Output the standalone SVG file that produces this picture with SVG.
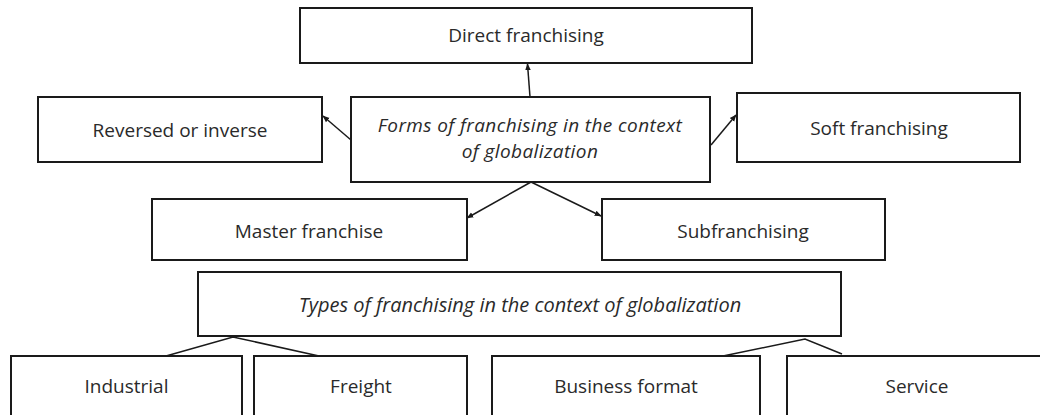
<svg xmlns="http://www.w3.org/2000/svg" width="1040" height="415" viewBox="0 0 1040 415">
<style>
.box{fill:#fff;stroke:#1a1a1a;stroke-width:2}
.t{font-family:"Open Sans","Liberation Sans",sans-serif;font-size:19px;fill:#2a2a2a;text-anchor:middle}
.i{font-style:italic;font-size:20px}
.f{font-style:italic;font-size:19px;letter-spacing:0.4px}
.c{stroke:#1a1a1a;stroke-width:1.5;fill:none}
</style>
<defs>
<marker id="ah" viewBox="0 0 10 10" refX="9" refY="5" markerWidth="7" markerHeight="7" orient="auto" markerUnits="userSpaceOnUse">
<path d="M0,1 L10,5 L0,9 z" fill="#1a1a1a"/>
</marker>
</defs>
<rect width="1040" height="415" fill="#fff"/>
<g id="connectors">
<line class="c" x1="530" y1="97" x2="527.5" y2="64" marker-end="url(#ah)"/>
<line class="c" x1="351" y1="140" x2="323" y2="116" marker-end="url(#ah)"/>
<line class="c" x1="711" y1="145" x2="736" y2="115" marker-end="url(#ah)"/>
<line class="c" x1="531" y1="182" x2="467" y2="218" marker-end="url(#ah)"/>
<line class="c" x1="531" y1="182" x2="601" y2="216" marker-end="url(#ah)"/>
<polyline class="c" points="166,356 233,337 319,356"/>
<polyline class="c" points="723,356 805,339 842,354"/>
</g>
<g id="direct"><rect class="box" x="300" y="8" width="452" height="55"/><text class="t" x="526" y="42">Direct franchising</text></g>
<g id="reversed"><rect class="box" x="38" y="97" width="284" height="65"/><text class="t" x="180" y="137">Reversed or inverse</text></g>
<g id="forms"><rect class="box" x="351" y="97" width="359" height="85"/><text class="t f" x="530" y="132">Forms of franchising in the context</text><text class="t f" x="530" y="158">of globalization</text></g>
<g id="soft"><rect class="box" x="737" y="93" width="283" height="69"/><text class="t" x="879" y="135">Soft franchising</text></g>
<g id="master"><rect class="box" x="152" y="199" width="315" height="61"/><text class="t" x="309" y="238">Master franchise</text></g>
<g id="sub"><rect class="box" x="602" y="199" width="283" height="61"/><text class="t" x="743" y="238">Subfranchising</text></g>
<g id="types"><rect class="box" x="198" y="272" width="643" height="64"/><text class="t i" x="520" y="312">Types of franchising in the context of globalization</text></g>
<g id="industrial"><rect class="box" x="11" y="356" width="231" height="70"/><text class="t" x="126.5" y="393">Industrial</text></g>
<g id="freight"><rect class="box" x="254" y="356" width="213" height="70"/><text class="t" x="361" y="393">Freight</text></g>
<g id="business"><rect class="box" x="492" y="356" width="268" height="70"/><text class="t" x="626" y="393">Business format</text></g>
<g id="service"><rect class="box" x="787" y="356" width="270" height="70"/><text class="t" x="917" y="393">Service</text></g>
</svg>
